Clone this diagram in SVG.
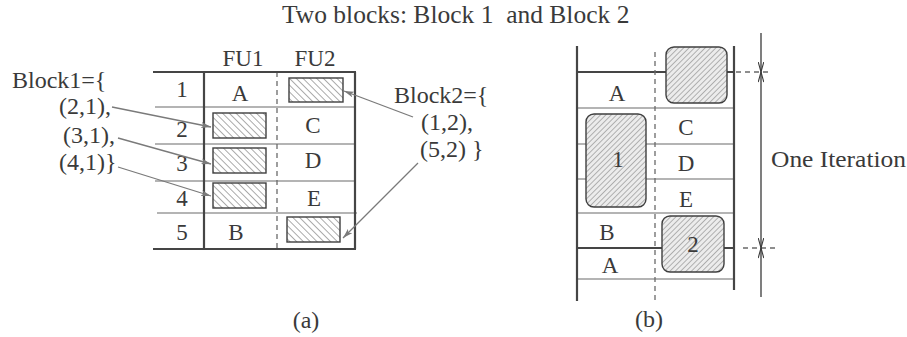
<svg xmlns="http://www.w3.org/2000/svg" width="907" height="337" viewBox="0 0 907 337">
  <style>
    text { font-family: "Liberation Serif", "Times New Roman", serif; fill: #3a3a3a; }
    .t22 { font-size: 23px; }
    .t24 { font-size: 24px; }
    .mid { text-anchor: middle; }
    .thick { stroke: #454545; stroke-width: 2.2; fill: none; }
    .thin { stroke: #6a6a6a; stroke-width: 1.2; fill: none; }
    .dash { stroke: #6a6a6a; stroke-width: 1.3; stroke-dasharray: 5 4; fill: none; }
    .conn { stroke: #7a7a7a; stroke-width: 1.3; fill: none; marker-end: url(#head); }
    .dim { stroke: #3a3a3a; stroke-width: 1.3; fill: none; }
    .slotA { fill: url(#hatchBack); stroke: #3f3f3f; stroke-width: 1.4; }
    .slotB { fill: url(#hatchFwd); stroke: #3f3f3f; stroke-width: 1.4; }
  </style>
  <defs>
    <!-- "\\\" hatching for the empty slots of the schedule table -->
    <pattern id="hatchBack" patternUnits="userSpaceOnUse" width="4.8" height="4.8" patternTransform="rotate(-45)">
      <rect width="4.8" height="4.8" fill="#ffffff"/>
      <line x1="0" y1="0" x2="0" y2="4.8" stroke="#444" stroke-width="0.9"/>
    </pattern>
    <!-- "///" hatching for the rounded blocks -->
    <pattern id="hatchFwd" patternUnits="userSpaceOnUse" width="3.8" height="3.8" patternTransform="rotate(45)">
      <rect width="3.8" height="3.8" fill="#ececec"/>
      <line x1="0" y1="0" x2="0" y2="3.8" stroke="#555" stroke-width="0.8"/>
    </pattern>
    <marker id="head" viewBox="0 0 10 6" refX="10" refY="3" markerWidth="10" markerHeight="6" markerUnits="userSpaceOnUse" orient="auto">
      <path d="M0,0 L10,3 L0,6 L2.5,3 Z" fill="#7a7a7a"/>
    </marker>
    <marker id="dimHead" viewBox="0 0 10 6" refX="10" refY="3" markerWidth="11" markerHeight="6" markerUnits="userSpaceOnUse" orient="auto-start-reverse">
      <path d="M0,0.2 L10,3 L0,5.8" fill="none" stroke="#3a3a3a" stroke-width="1.1"/>
    </marker>
  </defs>

  <text id="title" x="282" y="23" style="font-size:25.5px" xml:space="preserve">Two blocks: Block 1  and Block 2</text>

  <!-- (a) schedule table -->
  <g id="table-a">
    <path class="thin" d="M155,107 H355 M155,144 H355 M155,181 H355 M157,213 H357"/>
    <path class="dash" d="M277,72 V249"/>
    <path class="thick" d="M153,72 H356 M153,249 H356 M204,72 V249 M355,72 V249"/>
    <text x="243" y="66" class="mid" style="font-size:23px">FU1</text>
    <text x="315" y="66" class="mid" style="font-size:23px">FU2</text>
    <g class="t22 mid">
      <text x="182" y="97">1</text>
      <text x="182" y="137">2</text>
      <text x="182" y="171">3</text>
      <text x="182" y="206">4</text>
      <text x="182" y="240">5</text>
      <text x="240" y="101">A</text>
      <text x="313" y="133">C</text>
      <text x="313" y="168">D</text>
      <text x="314" y="206">E</text>
      <text x="236" y="240">B</text>
    </g>
  </g>
  <g id="slot-1-2"><rect class="slotA" x="289" y="78" width="54" height="24"/></g>
  <g id="slot-2-1"><rect class="slotA" x="213" y="113" width="53" height="25"/></g>
  <g id="slot-3-1"><rect class="slotA" x="213" y="148" width="53" height="25"/></g>
  <g id="slot-4-1"><rect class="slotA" x="213" y="183" width="53" height="25"/></g>
  <g id="slot-5-2"><rect class="slotA" x="287" y="217" width="53" height="25"/></g>

  <g id="block1-list" class="t24">
    <text x="12" y="88">Block1={</text>
    <text x="59" y="114">(2,1),</text>
    <text x="63" y="143">(3,1),</text>
    <text x="59" y="170">(4,1)}</text>
  </g>
  <g id="block2-list" class="t24">
    <text x="394" y="103">Block2={</text>
    <text x="421" y="130">(1,2),</text>
    <text x="420" y="157">(5,2) }</text>
  </g>

  <text id="label-a" x="306" y="328" class="t24 mid">(a)</text>

  <!-- (b) unrolled loop -->
  <g id="loop-b">
    <path class="thin" d="M577,108 H734 M577,144 H733 M577,179 H733 M577,213 H734 M577,279 H733"/>
    <path class="thick" d="M577,72 H734 M577,248 H734"/>
    <path class="dash" d="M655,52 V300 M736,72 H770 M743,248 H777"/>
    <path class="thick" d="M577,46 V301 M734,46 V290"/>
    <g class="t22 mid">
      <text x="617" y="101">A</text>
      <text x="686" y="135">C</text>
      <text x="686" y="171">D</text>
      <text x="686" y="207">E</text>
      <text x="607" y="240">B</text>
      <text x="610" y="273">A</text>
    </g>
  </g>
  <g id="block-top"><rect class="slotB" x="666" y="47" width="61" height="56" rx="8"/></g>
  <g id="block-1">
    <rect class="slotB" x="586" y="114" width="60" height="93" rx="8"/>
    <text x="618" y="167" class="t22 mid">1</text>
  </g>
  <g id="block-2">
    <rect class="slotB" x="662" y="216" width="62" height="56" rx="8"/>
    <text x="693" y="252" class="t22 mid">2</text>
  </g>

  <text id="label-b" x="649" y="327" class="t24 mid">(b)</text>

  <!-- iteration span -->
  <g id="iteration">
    <path class="dim" d="M761,33 V72" marker-end="url(#dimHead)"/>
    <path class="dim" d="M761,72 V248" marker-start="url(#dimHead)" marker-end="url(#dimHead)"/>
    <path class="dim" d="M761,297 V248" marker-end="url(#dimHead)"/>
    <text x="771" y="167" class="t24" textLength="135" lengthAdjust="spacingAndGlyphs">One Iteration</text>
  </g>

  <g id="connectors">
    <path class="conn" d="M112,107 L211,127"/>
    <path class="conn" d="M118,138 L211,164"/>
    <path class="conn" d="M118,167 L211,196"/>
    <path class="conn" d="M413,117 L344,91"/>
    <path class="conn" d="M418,163 L343,238"/>
  </g>
</svg>
